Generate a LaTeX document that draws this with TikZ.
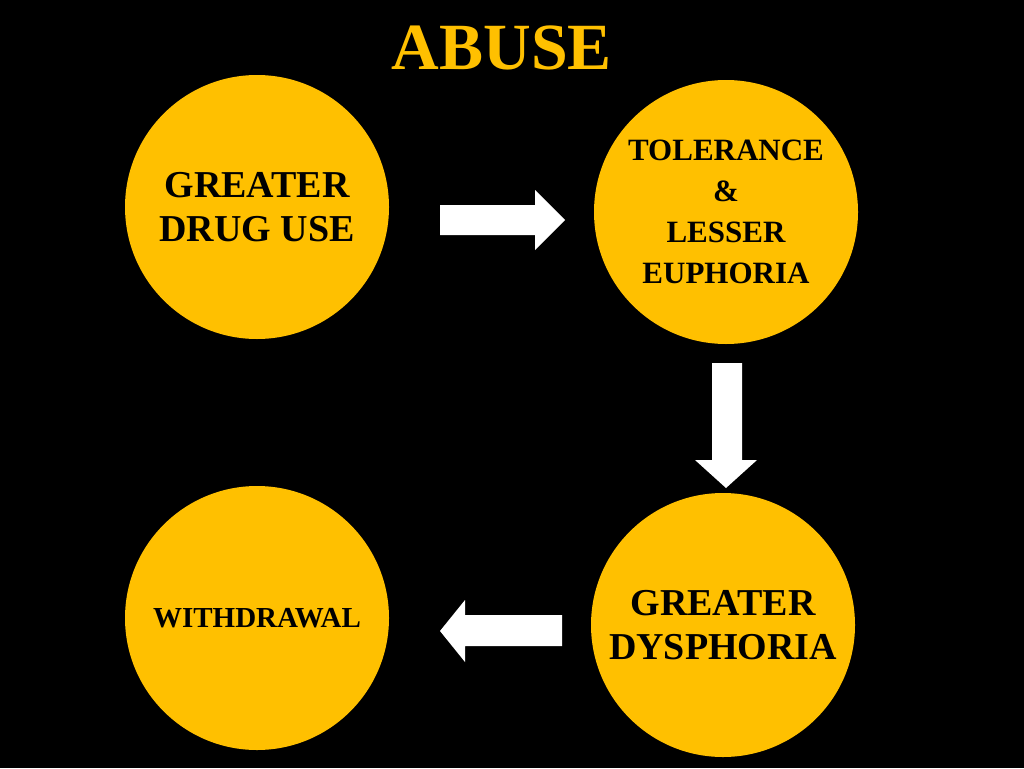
\documentclass[tikz,border=0pt]{standalone}
\usepackage{fontspec}
\setmainfont{Liberation Serif}
\usetikzlibrary{shapes.arrows}
\definecolor{gold}{HTML}{FFC000}
\begin{document}
\begin{tikzpicture}[x=1pt,y=-1pt,
  blob/.style={circle,fill=gold,minimum size=264pt,inner sep=0pt,align=center,font=\bfseries\fontsize{38}{44}\selectfont},
  arr/.style={fill=white,draw=none}]
\fill[black] (0,0) rectangle (1024,768);
\useasboundingbox (0,0) rectangle (1024,768);
\node[text=gold,font=\bfseries\fontsize{66}{70}\selectfont] (t) at (502,48) {ABUSE};
\node[blob] (a) at (257,207) {GREATER\\DRUG USE};
\node[blob,font=\bfseries\fontsize{31}{41}\selectfont] (b) at (726,212) {TOLERANCE\\\&\\LESSER\\EUPHORIA};
\node[blob] (c) at (723,625) {GREATER\\DYSPHORIA};
\node[blob,font=\bfseries\fontsize{29}{34}\selectfont] (d) at (257,618) {WITHDRAWAL};
\fill[arr] (440,205) -- (535,205) -- (535,190) -- (565,220) -- (535,250) -- (535,235) -- (440,235) -- cycle;
\fill[arr] (712,363) -- (742,363) -- (742,460) -- (757,460) -- (726,488) -- (695,460) -- (712,460) -- cycle;
\fill[arr] (562,615) -- (465,615) -- (465,600) -- (440,631) -- (465,662) -- (465,646) -- (562,646) -- cycle;
\end{tikzpicture}
\end{document}
